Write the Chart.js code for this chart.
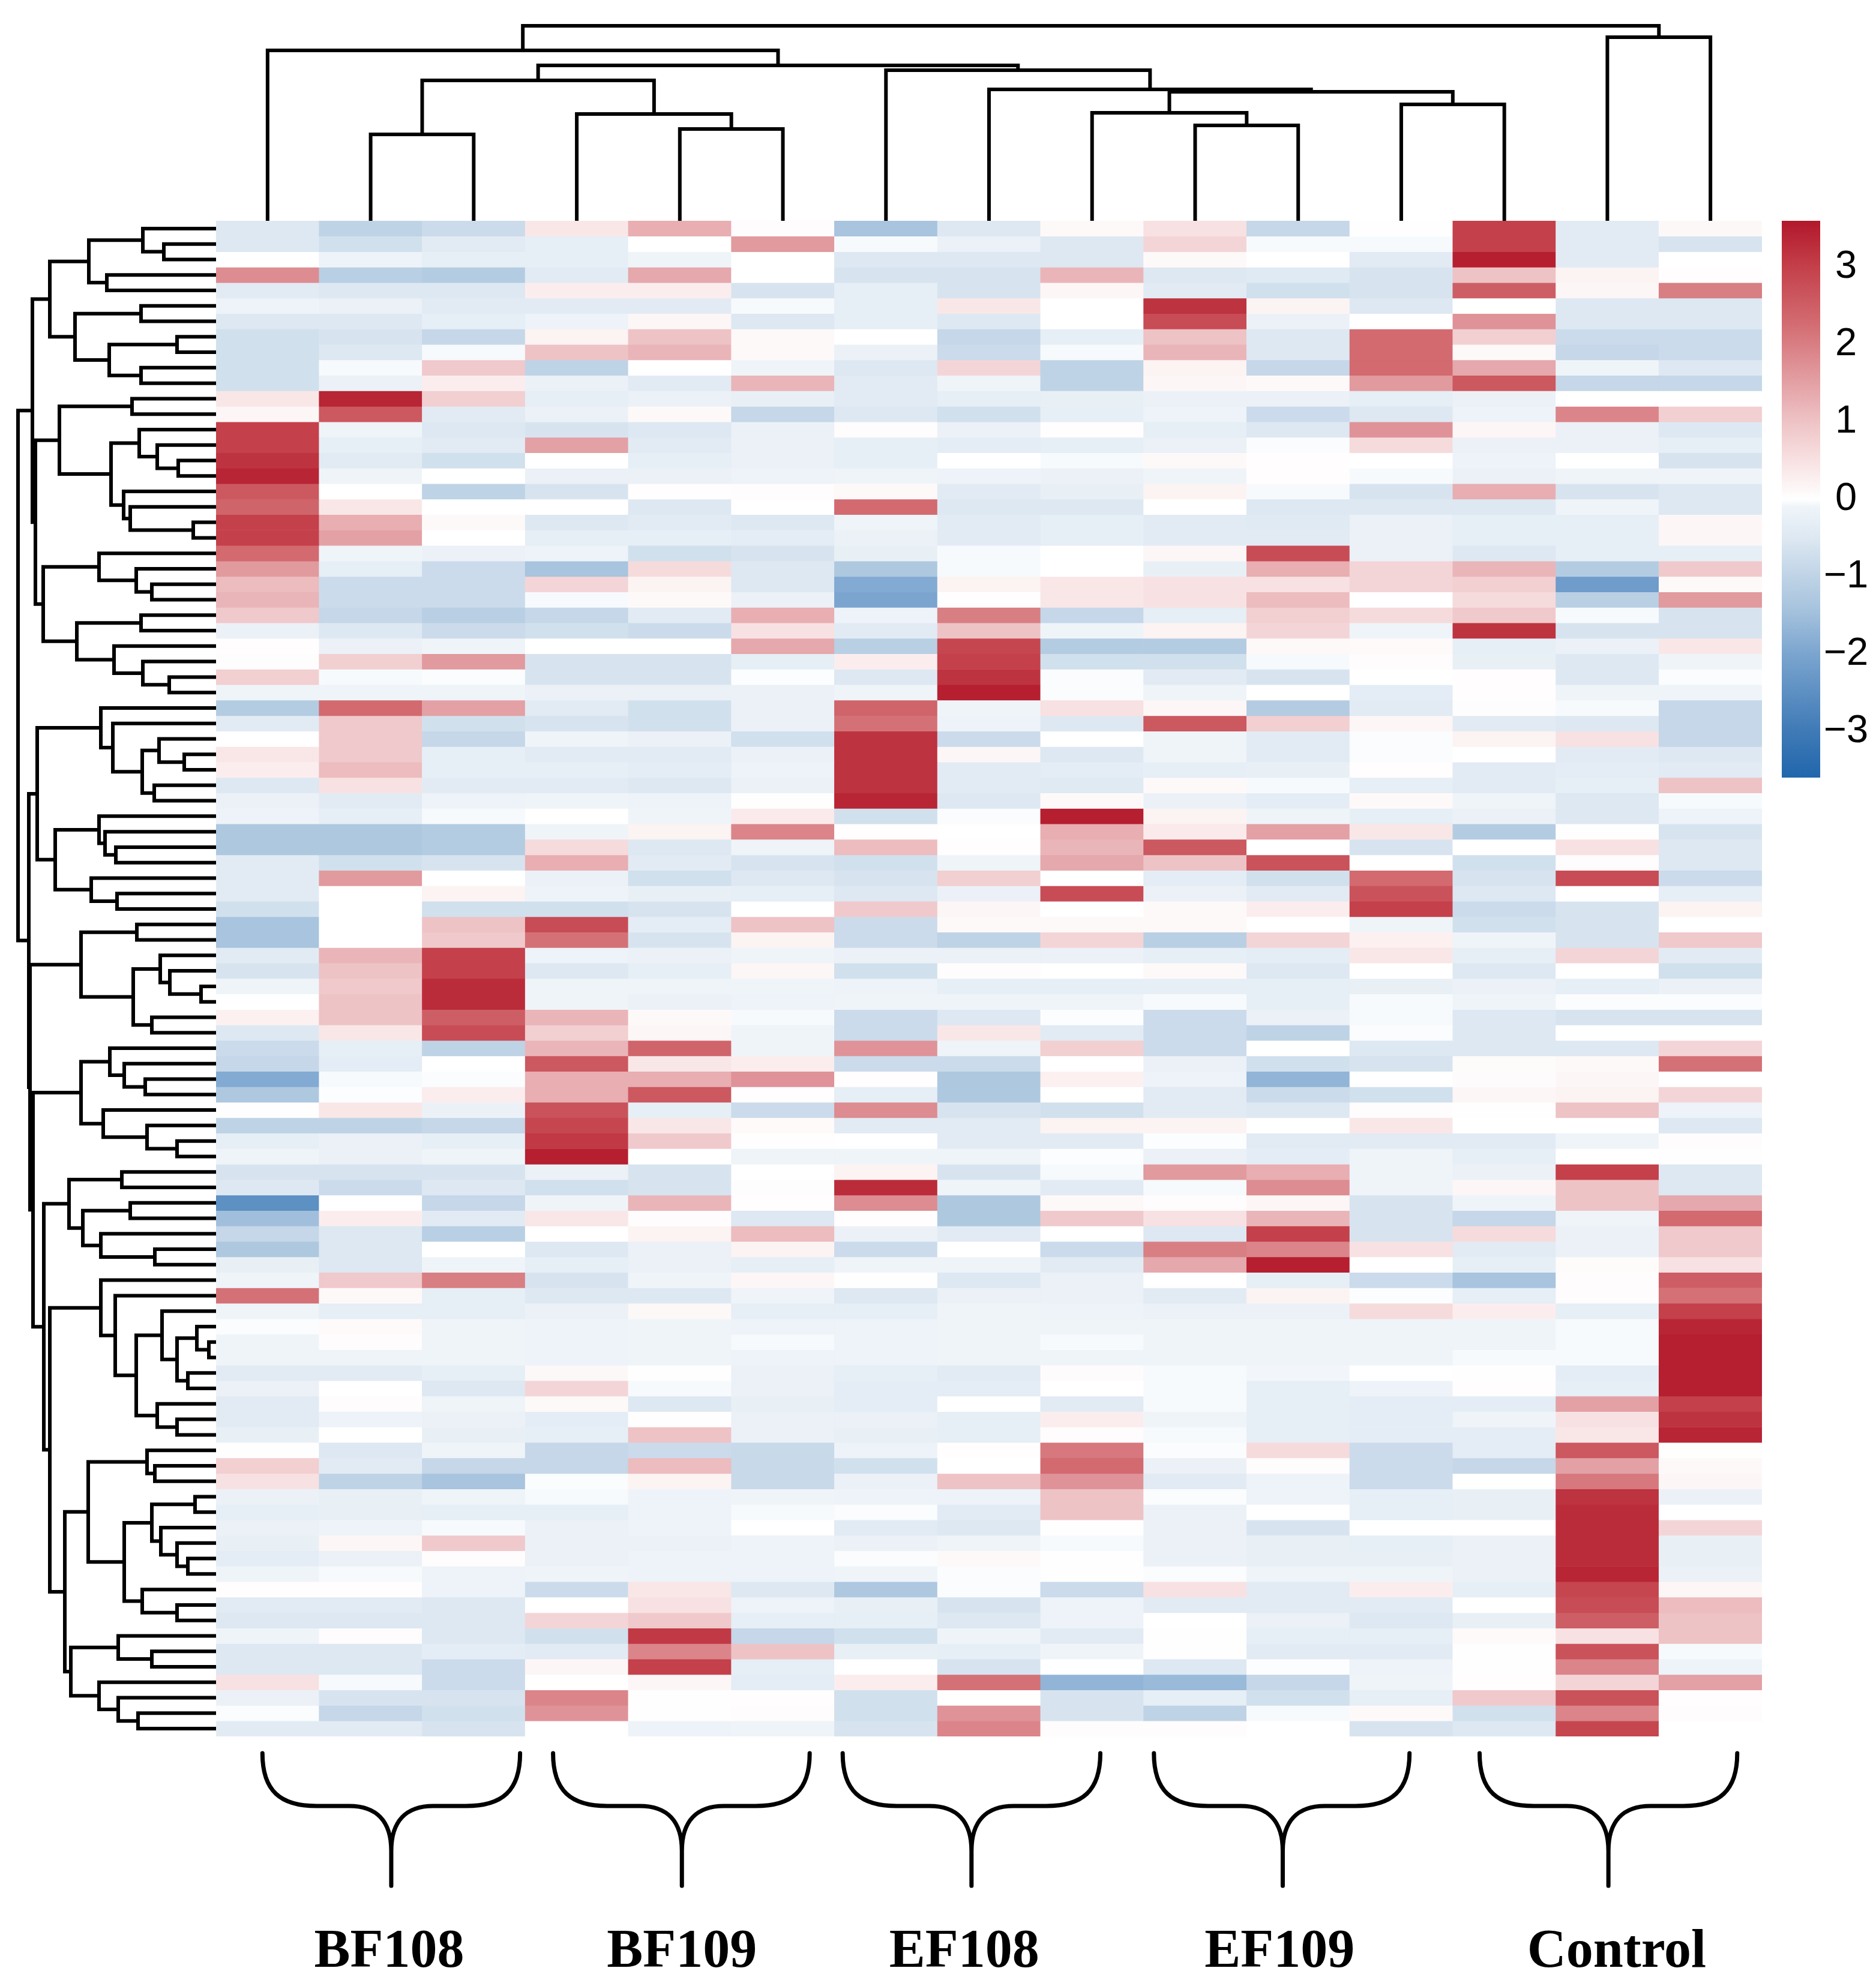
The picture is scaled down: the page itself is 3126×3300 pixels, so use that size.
<!DOCTYPE html>
<html>
<head>
<meta charset="utf-8">
<title>Heatmap</title>
<script src="https://cdnjs.cloudflare.com/ajax/libs/Chart.js/4.4.1/chart.umd.min.js"></script>
<style>
  html, body { margin: 0; padding: 0; background: #fff; }
  #page { position: relative; width: 3126px; height: 3300px; overflow: hidden; }
  canvas { position: absolute; }
</style>
</head>
<body>
<div id="page">
  <canvas id="heat" width="3126" height="3300" style="left:0;top:0"></canvas>
  <canvas id="topTree" width="2576" height="368" style="left:360px;top:0"></canvas>
  <canvas id="leftTree" width="360" height="2526" style="left:0;top:368px"></canvas>
  <canvas id="colorBar" width="157" height="928" style="left:2969px;top:368px"></canvas>
</div>
<script>
// one array per sample, 98 genes each (top row first)
const col00 = [-0.5,-0.5,0,1.8,-0.4,-0.15,-0.5,-0.7,-0.7,-0.7,-0.7,0.4,0.15,3,3,3.2,3.4,2.6,2.4,3,3,2.3,1.6,1.1,1.2,
  0.9,-0.2,0.03,0.04,0.8,-0.1,-1.2,-0.4,0,0.4,0.3,-0.5,-0.2,-0.15,-1.3,-1.3,-0.4,-0.4,-0.4,-0.7,-1.4,-1.4,-0.4,-0.6,-0.1,
  0,0.25,-0.5,-0.8,-0.9,-1.9,-1.3,0.02,-1,-0.3,-0.1,-0.6,-0.5,-2.5,-1.5,-0.9,-1.3,-0.25,-0.1,2.2,-0.1,-0.03,-0.1,-0.1,-0.4,
  -0.2,-0.4,-0.4,-0.25,0.02,0.8,0.5,-0.2,-0.3,-0.2,-0.25,-0.35,-0.1,0.03,-0.4,-0.5,-0.1,-0.5,-0.5,0.5,-0.2,-0.03,-0.4];
const col01 = [-1,-0.7,-0.15,-1.1,-0.5,-0.2,-0.5,-0.6,-0.5,-0.05,-0.2,3.4,2.6,-0.1,-0.3,-0.4,-0.1,0,0.4,1.3,1.5,-0.1,-0.3,-0.8,-0.8,
  -0.9,-0.5,-0.2,0.8,-0.05,-0.1,2.3,0.9,0.9,0.9,1.1,0.5,-0.4,-0.3,-1.3,-1.3,-0.7,1.6,0,0,0,0,1.2,1,0.9,
  1,1,0.4,-0.3,-0.35,-0.05,-0.02,0.4,-1,-0.2,-0.2,-0.6,-0.8,0,0.3,-0.5,-0.5,-0.5,0.9,0.1,-0.3,0.08,0.05,-0.1,-0.4,
  0,0.05,-0.15,0,-0.5,-0.4,-1,-0.25,-0.25,-0.15,0.15,-0.2,-0.05,0.03,-0.4,-0.5,0.05,-0.5,-0.5,-0.05,-0.6,-0.9,-0.4];
const col02 = [-0.8,-0.4,-0.3,-1.2,-0.5,-0.4,-0.3,-0.9,-0.05,0.9,0.3,0.8,-0.4,-0.5,-0.4,-0.7,0,-1,0,0.1,0,-0.2,-0.8,-0.8,-0.8,
  -1.1,-0.8,-0.1,1.6,-0.03,-0.1,1.5,-0.7,-0.9,-0.3,-0.3,-0.4,-0.15,-0.05,-1.2,-1.2,-0.6,0,0.2,-0.7,1,0.9,3,3,3.3,
  3.3,2.5,2.8,-1,0,-0.03,0.3,-0.2,-0.9,-0.3,-0.1,-0.6,-0.5,-0.9,-0.4,-1.1,0,-0.1,2,-0.3,-0.3,-0.1,-0.1,-0.1,-0.3,
  -0.5,-0.1,-0.2,-0.25,-0.1,-0.9,-1.4,-0.1,-0.3,-0.05,0.9,0.05,-0.15,-0.15,-0.5,-0.5,-0.5,-0.35,-0.8,-0.8,-0.6,-0.7,-0.6];
const col03 = [0.4,-0.3,-0.3,-0.4,0.3,-0.4,-0.15,0.2,1,-1,-0.2,-0.3,-0.2,-0.6,1.5,0,-0.2,-0.6,0,-0.5,-0.3,-0.15,-1.4,0.7,-0.05,
  -0.9,-0.7,0,-0.6,-0.6,-0.2,-0.4,-0.6,-0.1,-0.4,-0.3,-0.4,-0.1,0,-0.1,0.6,1.3,-0.2,-0.15,-0.7,2.8,2.2,-0.15,-0.5,-0.1,
  -0.1,1.2,0.8,1.2,2.6,1.3,1.3,2.7,2.9,3.1,3.5,-0.2,-0.7,-0.1,0.4,0,-0.5,-0.3,-0.6,-0.5,-0.2,-0.15,-0.15,-0.15,0.12,
  0.7,0.1,-0.35,-0.3,-0.9,-0.9,-0.03,-0.05,-0.3,-0.2,-0.2,-0.2,-0.1,-0.8,0,0.7,-0.7,-0.4,0.15,0,1.9,1.7,0];
const col04 = [1.3,0,-0.1,1.4,0.3,-0.4,0.15,1,1.2,0,-0.4,-0.2,0.1,-0.5,-0.4,-0.3,-0.2,0.03,-0.5,-0.4,-0.3,-0.7,0.6,0.2,0.1,
  -0.4,-0.8,0,-0.6,-0.6,-0.2,-0.7,-0.7,-0.2,-0.4,-0.35,-0.5,-0.15,-0.1,0.2,-0.5,-0.4,-0.7,-0.25,-0.6,-0.35,-0.6,-0.2,-0.3,-0.1,
  -0.2,0.1,0.15,2.4,0.4,1.3,2.6,-0.3,0.4,0.9,0,-0.6,-0.6,1.2,0.05,0.2,-0.2,-0.2,-0.1,-0.5,0.12,-0.1,-0.1,-0.1,0.02,
  -0.05,-0.5,0.02,1,-0.8,1.1,0.2,-0.15,-0.15,-0.15,-0.2,-0.15,-0.15,0.4,0.5,0.9,3.1,1.9,3,0.15,0.02,0.02,-0.15];
const col05 = [0.05,1.6,0,0,-0.6,-0.05,-0.5,0.1,0.1,-0.1,1.2,-0.25,-0.9,-0.2,-0.2,-0.2,-0.15,0.05,0,-0.5,-0.35,-0.6,-0.5,-0.5,-0.2,
  1.3,0.5,1.4,-0.3,-0.02,-0.2,-0.2,-0.2,-0.7,-0.2,-0.15,-0.2,0.02,0.35,1.9,-0.1,-0.6,-0.5,-0.3,0,1,0.2,-0.1,0.15,-0.1,
  -0.15,-0.05,-0.1,-0.1,0.3,1.7,0.03,-0.8,0.08,0.02,-0.1,0,0.04,0.03,-0.5,1.1,0.2,-0.3,0.15,-0.1,-0.3,-0.15,-0.05,-0.15,-0.2,
  -0.2,-0.25,-0.2,-0.2,-0.85,-0.85,-0.85,-0.1,-0.05,0,-0.15,-0.15,-0.15,-0.5,-0.15,-0.3,-0.9,1,-0.3,-0.35,0.03,0.05,-0.1];
const col06 = [-1.4,-0.05,-0.5,-0.6,-0.3,-0.3,-0.3,0,-0.2,-0.5,-0.4,-0.4,-0.5,0.05,-0.3,-0.3,-0.1,0.1,2.3,-0.1,-0.2,-0.25,-1.3,-1.9,-2,
  -0.15,-0.4,-1.1,0.3,-0.5,-0.1,2.4,2.2,3.2,3.2,3.2,3.2,3.4,-0.7,0.03,1.1,-0.7,-0.6,-0.5,0.9,-0.8,-0.8,-0.2,-0.7,-0.15,
  -0.1,-0.8,-0.8,1.7,-0.8,0.03,-0.3,1.8,-0.4,0,-0.1,0.2,3.3,1.8,0.03,-0.2,-0.8,-0.1,0.02,-0.5,-0.3,-0.15,-0.15,-0.15,-0.3,
  -0.35,-0.35,-0.2,-0.25,-0.15,-0.7,-0.2,-0.15,-0.03,-0.4,-0.2,-0.03,-0.1,-1.3,-0.25,-0.3,-0.7,-0.25,0,0.3,-0.7,-0.7,-0.6];
const col07 = [-0.5,-0.2,-0.5,-0.6,-0.6,0.4,-0.5,-0.9,-0.8,0.7,-0.1,-0.3,-0.7,-0.2,-0.35,0,-0.15,-0.4,-0.5,-0.4,-0.4,-0.05,-0.05,0.2,0.02,
  2,1,2.9,3,3.2,3.5,-0.1,-0.15,-0.8,0.15,-0.4,-0.4,-0.5,-0.03,0,0.03,-0.1,0.8,-0.2,0.15,0.1,-1,-0.2,0.05,-0.3,
  -0.1,-0.5,0.4,-0.1,-0.8,-1.3,-1.3,-0.6,-0.4,-0.4,-0.1,-0.6,-0.1,-1.3,-1.3,-0.4,0,-0.1,-0.5,-0.2,-0.1,-0.1,-0.1,-0.1,-0.4,
  -0.35,0,-0.3,-0.3,0.03,0,1,-0.15,-0.4,-0.5,-0.1,0.1,-0.03,-0.03,-0.6,-0.5,-0.1,-0.3,-0.6,2.2,0,1.7,1.9];
const col08 = [0.1,-0.5,-0.5,1.2,0.15,0,0,-0.3,-0.05,-1,-1,-0.25,-0.3,0.03,-0.3,-0.05,-0.2,-0.25,-0.5,-0.3,-0.3,0,0,0.4,0.4,
  -0.9,-0.1,-1.2,-0.7,-0.03,-0.03,0.5,-0.5,0,-0.5,-0.35,-0.45,0.1,3.5,1.3,1.2,1.4,0,2.8,0,0.1,0.7,-0.2,0,-0.3,
  -0.1,-0.02,-0.4,0.8,0,0.25,0,-0.7,0.2,-0.4,-0.02,-0.05,-0.4,0.1,0.9,0,-0.8,-0.4,-0.2,-0.2,-0.15,-0.1,-0.05,-0.1,0.06,
  0,-0.4,0.3,0.05,2.1,2.3,1.7,1,1,0.02,-0.05,0.02,0.02,-0.8,-0.15,-0.15,-0.4,-0.1,0,-1.7,-0.6,-0.6,0.05];
const col09 = [0.5,0.7,0.1,-0.5,-0.4,3.2,2.8,1,1.2,0.2,0.15,-0.2,-0.15,-0.3,-0.2,0.1,-0.1,0.2,0,-0.4,-0.4,0.15,-0.25,0.5,0.5,
  -0.3,0.2,-1.2,-0.7,-0.4,-0.1,0.15,2.6,-0.1,-0.1,-0.3,0.1,-0.2,0.2,0.35,2.6,1,-0.35,-0.2,0.1,0.1,-1.1,-0.3,0.1,-0.3,
  -0.05,-0.8,-0.8,-0.8,-0.2,-0.15,-0.4,-0.4,0.2,-0.02,-0.2,1.6,-0.05,0.05,0.5,-0.5,2,1.4,0,-0.4,-0.2,-0.1,-0.1,-0.1,-0.05,
  -0.05,-0.05,-0.1,-0.05,-0.03,-0.2,-0.4,-0.03,-0.2,-0.2,-0.2,-0.2,-0.03,0.5,-0.4,0,0.02,0.02,-0.5,-1.6,-0.3,-1,0.05];
const col10 = [-0.9,-0.05,0,-0.45,-0.7,0.2,-0.2,-0.5,-0.5,-0.9,0.1,-0.2,-0.8,-0.5,-0.03,0.03,0.03,-0.05,-0.5,-0.45,-0.4,2.8,1.3,0.5,1.1,
  0.8,0.7,0.1,-0.05,-0.6,0,-1.2,0.8,-0.4,-0.4,-0.25,-0.05,-0.35,-0.1,1.5,0,2.7,-0.7,-0.4,0.3,0,0.7,-0.35,-0.5,-0.3,
  -0.3,-0.2,-1,0,-0.7,-1.7,-0.8,-0.5,0,-0.4,-0.35,1.3,1.8,0.15,1.2,3,1.9,3.5,-0.3,0.2,-0.2,-0.1,-0.1,-0.1,-0.08,
  -0.3,-0.3,-0.3,-0.3,0.6,0.05,-0.15,-0.15,0,-0.6,-0.25,-0.25,-0.1,-0.4,-0.4,-0.2,-0.3,-0.4,-0.02,-0.9,-0.7,-0.05,0];
const col11 = [0.02,-0.05,-0.4,-0.6,-0.6,-0.5,0,2.3,2.3,2.3,1.6,-0.3,-0.5,1.7,0.6,0,-0.05,-0.6,-0.5,-0.2,-0.2,-0.2,0.7,0.7,0,
  0.6,-0.1,0.08,0.05,0,-0.35,-0.4,0.15,-0.03,-0.03,0.03,-0.3,0.1,-0.3,0.4,-0.6,0,2.3,2.7,3,-0.1,0.25,0.4,0,-0.25,
  -0.05,-0.05,-0.03,-0.5,-0.6,0,-0.7,0.05,0.4,-0.4,-0.1,-0.1,-0.1,-0.6,-0.6,-0.6,0.5,0,-0.8,-0.02,0.6,-0.1,-0.1,-0.1,0,
  -0.15,-0.35,-0.35,-0.35,-0.8,-0.8,-0.8,-0.3,-0.3,0,-0.3,-0.25,-0.1,0.3,-0.4,-0.5,-0.3,-0.4,-0.15,-0.1,-0.3,0.1,-0.6];
const col12 = [3,3,3.5,1,2.5,0,1.7,0.8,0.1,1.4,2.6,-0.2,-0.15,0.15,-0.2,-0.15,-0.2,1.3,-0.5,-0.3,-0.3,-0.5,1.2,0.8,0.6,
  0.9,3.2,-0.3,-0.25,0.03,0.03,0.04,-0.4,0.2,0,-0.4,-0.4,-0.1,-0.2,-1.2,0,-0.7,-0.6,-0.5,-0.8,-0.7,-0.1,-0.3,-0.5,-0.2,
  -0.1,-0.5,-0.5,-0.5,0.07,0.06,0.15,0.02,0,-0.4,-0.3,-0.2,0.15,-0.1,-0.9,0.6,-0.4,-0.3,-1.4,-0.3,0.3,-0.1,-0.1,-0.05,0.02,
  0.03,-0.35,-0.1,-0.35,-0.35,-0.9,0,-0.25,-0.25,0,-0.2,-0.2,-0.2,-0.3,0,-0.25,0.08,0.02,0.02,0.03,0.9,-0.7,-0.5];
const col13 = [-0.4,-0.4,-0.4,0.2,0.15,-0.5,-0.5,-0.8,-0.9,-0.1,-0.9,0,1.9,-0.2,-0.2,0,-0.1,-0.6,-0.1,-0.3,-0.3,-0.3,-1.2,-2.2,-1.1,
  -0.05,-0.6,-0.2,-0.5,-0.5,-0.1,-0.05,-0.5,0.5,-0.4,-0.35,-0.3,-0.5,-0.5,0.02,0.5,0.05,2.8,0,-0.6,-0.6,-0.6,0.7,0,-0.3,
  -0.03,-0.6,0,-0.5,0.1,0.15,0.2,1,0,-0.1,0,3,1,1,-0.1,-0.2,-0.2,0.07,0.05,0.05,-0.3,-0.05,-0.05,-0.05,-0.35,
  -0.3,1.5,0.5,0.4,2.6,1.5,2.1,3.2,3.3,3.3,3.3,3.3,3.4,2.9,2.8,2.5,0.5,2.7,1.9,0.7,2.7,1.9,2.9];
const col14 = [0.12,-0.6,0,0.03,2,-0.5,-0.5,-0.8,-0.8,-0.5,-0.9,0,0.8,-0.5,-0.3,-0.6,-0.1,-0.5,-0.5,0.15,0.15,-0.3,0.9,0.1,1.6,
  -0.6,-0.6,0.4,-0.1,-0.03,-0.1,-0.9,-0.9,-0.9,-0.5,-0.4,1,-0.05,-0.15,-0.6,-0.5,-0.5,-0.8,-0.3,0.2,0,0.9,-0.4,-0.7,-0.2,
  -0.03,-0.6,0,0.7,2.2,0,0.7,-0.15,-0.5,0.05,0.02,-0.5,-0.5,1.4,2.3,0.9,0.9,0.5,2.5,2.2,3,3.4,3.5,3.5,3.5,
  3.5,3,3.2,3.4,0.02,0.1,0.15,-0.2,0,0.7,-0.25,-0.25,-0.2,0.15,1.1,1,1,-0.05,-0.15,1.5,0.03,0.05,0];

const columns = [col00,col01,col02,col03,col04,col05,col06,col07,col08,col09,col10,col11,col12,col13,col14];
const sampleNames = ['S1','S2','S3','S4','S5','S6','S7','S8','S9','S10','S11','S12','S13','S14','S15'];

// groups under the heatmap, positions in column units
const groupLabels = ['BF108','BF109','EF108','EF109','Control'];
const groupCentres = [1.18,4.02,6.76,9.82,13.09];
const braceStart = [-0.05,2.77,5.58,8.60,11.76];
const braceEnd = [2.45,5.26,8.08,11.08,14.26];
const braceTip = [1.2,4.02,6.83,9.85,13.01];

// colour key
const colorTicks = [3,2,1,0,-1,-2,-3];
const colorValues = [-3.6,-3,-2,-1.4,-1,-0.5,-0.1,0,0.5,1,2.3,3,3.6];
const colorHexes = ['#2166ac','#3f7ab6','#7ba5cf','#a8c4de','#bfd3e6','#dde8f2','#eff4f9','#ffffff','#f8e1e2','#eec3c6','#d26a70','#c4404a','#b2182b'];

// dendrograms: [merge height, child, child], a plain number is a leaf index
const topMerges = [325,
  [284, 0,
    [259,
      [234, [144, 1, 2], [178, 3, [153, 4, 5]]],
      [251, 6, [219, 7, [215, [180, 8, [159, 9, 10]], [194, 11, 12]]]]]],
  [306, 13, 14]];

const leftMerges = [330,
  [306,
    [277,
      [212, [122, 0, [87, 1, 2]], [182, 3, 4]],
      [235, [125, 5, 6], [178, [65, 7, 8], [125, 9, 10]]]],
    [301,
      [261, [140, 11, 12],
        [175, [128, 13, [98, 14, [63, 15, 16]]], [154, 17, [143, 18, [38, 19, 20]]]]],
      [288,
        [195, 21, [133, 22, [107, 23, 24]]],
        [232, [125, 25, 26], [170, 27, [122, 28, [78, 29, 30]]]]]]],
  [312,
    [298,
      [192, 31, [172, 32, [123, [95, 33, [53, 34, 35]], [103, 36, 37]]]],
      [268, [195, 38, [185, 39, [167, 40, 41]]], [208, 42, [165, 43, 44]]]],
    [310,
      [225, [132, 45, 46], [138, [93, 47, [77, 48, [25, 49, 50]]], [107, 51, 52]]],
      [305,
        [225, [177, 53, [153, 54, [118, 55, 56]]], [188, 57, [115, 58, [65, 59, 60]]]],
        [287,
          [245, [157, 61, 62], [222, [143, 63, 64], [192, 65, [102, 66, 67]]]],
          [277,
            [192, 68, [168, 69, [133,
              [90, 70, [65, [32, 71, [12, 72, 73]], [47, 74, 75]]],
              [98, 76, [65, 77, 78]]]]],
            [252,
              [213, [115, 79, [102, 80, 81]],
                [153, [107, [35, 82, 83], [92, 84, [65, 85, [47, 86, 87]]]], [123, 88, [65, 89, 90]]]],
              [242, [163, 91, [107, 92, 93]], [195, 94, [163, 95, [130, 96, 97]]]]]]]]]]];

Chart.defaults.animation = false;
Chart.defaults.responsive = false;
Chart.defaults.plugins.legend.display = false;
Chart.defaults.plugins.tooltip.enabled = false;

function hexToRgb(hex) {
    return [1, 3, 5].map(i => parseInt(hex.slice(i, i + 2), 16));
}

function colorFor(v) {
    let i = 0;
    while (i < colorValues.length - 2 && v > colorValues[i + 1]) i++;
    const t = Math.min(1, Math.max(0, (v - colorValues[i]) / (colorValues[i + 1] - colorValues[i])));
    const a = hexToRgb(colorHexes[i]);
    const b = hexToRgb(colorHexes[i + 1]);
    return 'rgb(' + a.map((c, k) => Math.round(c + (b[k] - c) * t)).join(',') + ')';
}

// walks a merge tree, each merge becomes one U shaped line
function treeSegments(node, segments) {
    if (typeof node === 'number') return { pos: node, height: 0 };
    const a = treeSegments(node[1], segments);
    const b = treeSegments(node[2], segments);
    segments.push([[a.pos, a.height], [a.pos, node[0]], [b.pos, node[0]], [b.pos, b.height]]);
    return { pos: (a.pos + b.pos) / 2, height: node[0] };
}

function treeDatasets(tree, toPoint) {
    const segments = [];
    treeSegments(tree, segments);
    return segments.map(seg => ({
        data: seg.map(p => toPoint(p[0], p[1])),
        showLine: true,
        borderColor: '#000',
        borderWidth: 6,
        borderCapStyle: 'square',
        borderJoinStyle: 'miter',
        pointRadius: 0,
        clip: false
    }));
}

const bracePlugin = {
    id: 'braces',
    afterDraw(chart) {
        const ctx = chart.ctx;
        const x = chart.scales.x;
        ctx.save();
        ctx.strokeStyle = '#000';
        ctx.lineWidth = 7;
        ctx.lineCap = 'round';
        ctx.lineJoin = 'round';
        const top = 2922, mid = 3010, tip = 3143;
        groupLabels.forEach((label, i) => {
            const x0 = x.getPixelForValue(braceStart[i]);
            const x1 = x.getPixelForValue(braceEnd[i]);
            const c = x.getPixelForValue(braceTip[i]);
            ctx.beginPath();
            ctx.moveTo(x0, top);
            ctx.bezierCurveTo(x0, mid - 25, x0 + 30, mid, x0 + 90, mid);
            ctx.lineTo(c - 70, mid);
            ctx.bezierCurveTo(c - 25, mid, c, mid + 25, c, mid + 75);
            ctx.lineTo(c, tip);
            ctx.moveTo(x1, top);
            ctx.bezierCurveTo(x1, mid - 25, x1 - 30, mid, x1 - 90, mid);
            ctx.lineTo(c + 70, mid);
            ctx.bezierCurveTo(c + 25, mid, c, mid + 25, c, mid + 75);
            ctx.stroke();
        });
        ctx.fillStyle = '#000';
        ctx.font = 'bold 90px "Liberation Serif"';
        ctx.textAlign = 'center';
        ctx.textBaseline = 'alphabetic';
        groupLabels.forEach((label, i) => {
            ctx.fillText(label, x.getPixelForValue(groupCentres[i]), 3278);
        });
        ctx.restore();
    }
};

// heatmap: every row is a dataset of floating bars on the row scale
const rowCount = col00.length;
const heatDatasets = [];
for (let r = 0; r < rowCount; r++) {
    heatDatasets.push({
        data: columns.map(() => [r, r + 1]),
        backgroundColor: columns.map(col => colorFor(col[r])),
        borderWidth: 0,
        grouped: false,
        barPercentage: 1,
        categoryPercentage: 1
    });
}

new Chart(document.getElementById('heat'), {
    type: 'bar',
    data: { labels: sampleNames, datasets: heatDatasets },
    options: {
        layout: { padding: { left: 360, right: 190, top: 368, bottom: 406 } },
        scales: {
            x: { display: false },
            y: { display: false, reverse: true, min: 0, max: rowCount }
        }
    },
    plugins: [bracePlugin]
});

new Chart(document.getElementById('topTree'), {
    type: 'scatter',
    data: { datasets: treeDatasets(topMerges, (pos, h) => ({ x: pos, y: h })) },
    options: {
        scales: {
            x: { display: false, min: -0.5, max: 14.5 },
            y: { display: false, min: 0, max: 368 }
        }
    }
});

new Chart(document.getElementById('leftTree'), {
    type: 'scatter',
    data: { datasets: treeDatasets(leftMerges, (pos, h) => ({ x: h, y: pos })) },
    options: {
        scales: {
            x: { display: false, reverse: true, min: 0, max: 360 },
            y: { display: false, reverse: true, min: -0.5, max: rowCount - 0.5 }
        }
    }
});

new Chart(document.getElementById('colorBar'), {
    type: 'bar',
    data: {
        labels: ['key'],
        datasets: [{
            data: [[-3.6, 3.6]],
            borderWidth: 0,
            barPercentage: 1,
            categoryPercentage: 1,
            backgroundColor(c) {
                // called once before the layout is done
                if (!c.chart.chartArea) return '#fff';
                const y = c.chart.scales.y;
                const g = c.chart.ctx.createLinearGradient(0, y.getPixelForValue(3.6), 0, y.getPixelForValue(-3.6));
                colorValues.forEach((v, i) => g.addColorStop((3.6 - v) / 7.2, colorHexes[i]));
                return g;
            }
        }]
    },
    options: {
        scales: {
            x: { display: false },
            y: {
                position: 'right',
                min: -3.6,
                max: 3.6,
                afterBuildTicks(axis) { axis.ticks = colorTicks.map(v => ({ value: v })); },
                afterFit(axis) {
                    // the bar has to fill the whole canvas height
                    axis.width = 93;
                    axis.paddingTop = 0;
                    axis.paddingBottom = 0;
                },
                grid: { display: false, drawTicks: false, tickLength: 0 },
                border: { display: false },
                ticks: {
                    color: '#000',
                    padding: 6,
                    crossAlign: 'center',
                    font: { family: 'Liberation Sans', size: 65 },
                    callback: v => (v < 0 ? '\u2212' + Math.abs(v) : String(v))
                }
            }
        }
    }
});
</script>
</body>
</html>
